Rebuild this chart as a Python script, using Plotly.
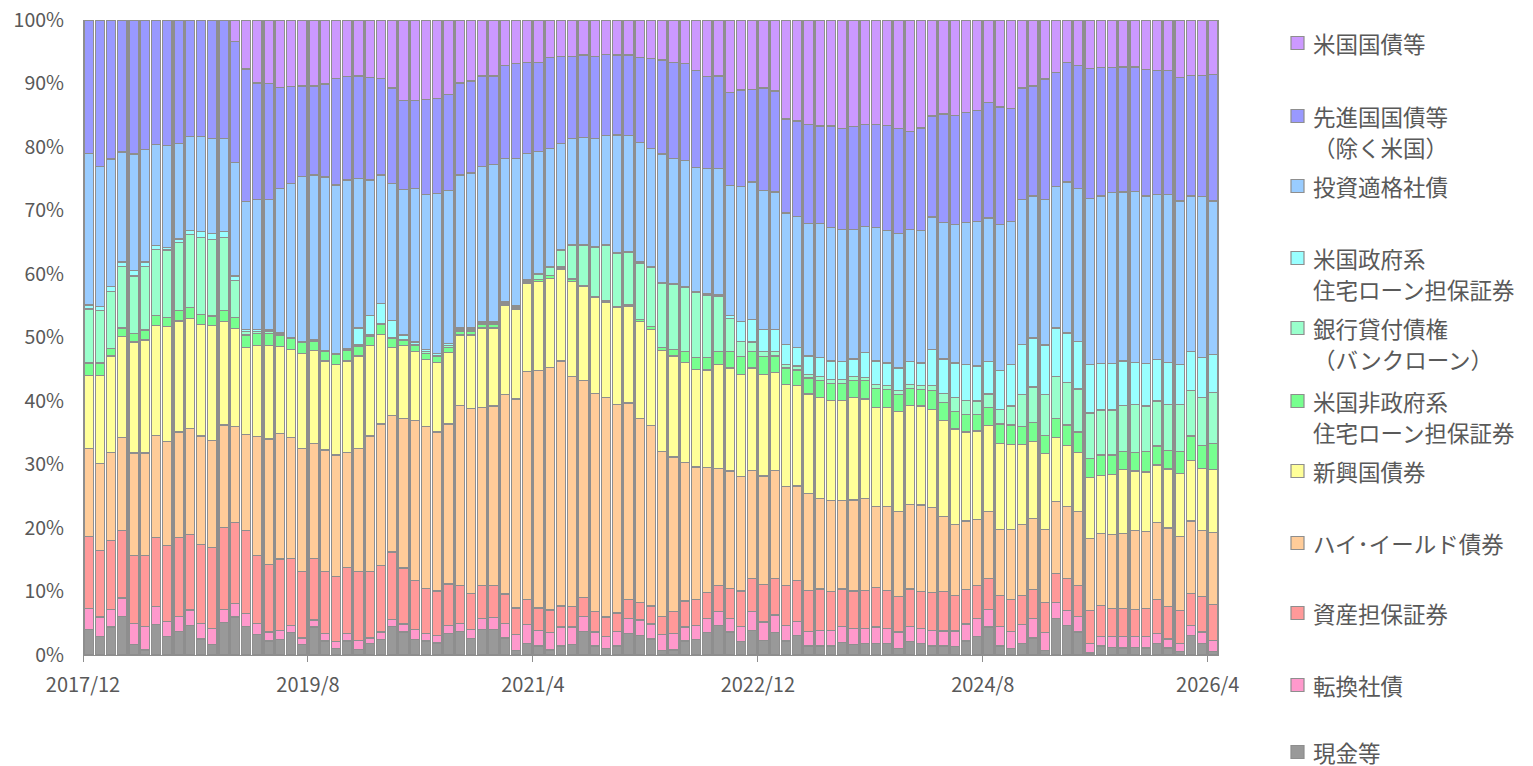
import plotly.graph_objects as go

# ---- categories: monthly from 2017/12 to 2026/4 (101 months) ----
months = []
y, m = 2017, 12
for _ in range(101):
    months.append(f"{y}/{m}")
    m += 1
    if m > 12:
        m = 1
        y += 1

tick_labels = ["2017/12", "2019/8", "2021/4", "2022/12", "2024/8", "2026/4"]

# ---- series values (% of portfolio) ----
cash = [4.0, 2.9, 4.4, 6.1, 1.6, 0.8, 4.8, 2.9, 3.7, 4.6,
        2.5, 1.6, 5.1, 6.0, 4.5, 3.2, 2.2, 2.4, 3.5, 1.6,
        4.4, 2.2, 1.0, 2.2, 0.9, 1.8, 2.4, 4.5, 3.6, 2.4,
        2.2, 1.9, 3.4, 3.7, 2.6, 4.0, 4.0, 2.7, 0.7, 1.8,
        1.4, 0.8, 1.4, 1.6, 3.7, 1.4, 1.0, 1.4, 3.4, 3.1,
        2.5, 0.7, 0.8, 2.2, 2.4, 3.5, 4.6, 3.6, 2.1, 3.9,
        2.3, 3.5, 2.2, 3.1, 1.4, 1.4, 1.4, 2.0, 1.6, 1.8,
        1.8, 1.8, 1.0, 2.1, 1.8, 1.4, 1.4, 1.3, 2.2, 2.9,
        4.4, 1.4, 1.0, 1.8, 2.7, 0.7, 5.7, 4.6, 3.6, 0.3,
        1.4, 1.2, 1.1, 1.2, 1.1, 1.8, 1.1, 0.5, 3.1, 1.8, 0.6]

convertible = [3.3, 3.1, 2.8, 2.9, 3.4, 3.7, 2.8, 2.4, 2.4, 2.5,
               2.5, 2.6, 2.1, 2.1, 2.0, 1.8, 1.4, 1.5, 1.2, 1.1,
               1.1, 1.2, 1.1, 1.2, 1.4, 0.9, 1.2, 1.1, 1.3, 1.6,
               1.2, 1.2, 1.2, 1.3, 1.4, 1.7, 1.9, 2.3, 2.5, 3.0,
               2.5, 2.7, 3.0, 2.8, 2.4, 2.2, 1.9, 2.3, 2.4, 2.4,
               2.4, 2.5, 2.6, 2.2, 2.2, 2.2, 2.2, 2.2, 2.4, 2.9,
               2.9, 2.8, 2.5, 2.2, 2.3, 2.5, 2.5, 2.5, 2.6, 2.4,
               2.6, 2.4, 2.6, 2.4, 2.4, 2.5, 2.4, 2.5, 2.7, 2.8,
               2.8, 3.1, 2.7, 3.0, 3.0, 2.8, 2.6, 2.4, 2.5, 1.5,
               1.5, 1.7, 1.8, 1.7, 1.8, 1.6, 1.4, 1.3, 1.5, 1.8, 1.7]

abs_ = [11.4, 10.5, 10.8, 10.6, 10.7, 11.2, 10.9, 11.9, 12.4, 11.9,
        12.4, 12.7, 12.9, 12.8, 13.1, 10.7, 10.6, 11.2, 10.5, 10.4,
        9.7, 9.7, 10.3, 10.4, 10.8, 10.4, 10.5, 10.6, 8.8, 7.7,
        7.1, 7.0, 6.6, 5.9, 5.7, 5.2, 5.0, 4.6, 4.2, 3.9,
        3.5, 3.6, 3.3, 3.2, 3.0, 3.2, 3.1, 2.9, 2.9, 2.8,
        2.8, 2.9, 3.4, 4.1, 4.1, 4.1, 4.2, 4.7, 5.6, 5.2,
        5.9, 5.7, 6.3, 6.4, 6.5, 6.5, 6.1, 5.9, 5.9, 6.0,
        6.2, 6.0, 5.6, 5.9, 5.8, 5.9, 6.2, 5.6, 5.4, 5.2,
        4.8, 4.9, 5.0, 4.6, 4.6, 4.8, 4.5, 5.0, 4.9, 5.2,
        4.9, 4.4, 4.4, 4.3, 4.4, 5.3, 5.1, 5.2, 5.1, 5.6, 5.6]

high_yield = [13.8, 13.7, 13.9, 14.7, 16.1, 16.1, 16.1, 16.4, 16.6, 16.7,
              17.1, 16.9, 16.1, 15.1, 15.1, 18.7, 19.8, 19.8, 19.0, 19.4,
              18.1, 19.2, 19.1, 18.1, 19.4, 21.4, 22.3, 21.5, 23.5, 25.2,
              25.5, 25.0, 25.2, 28.4, 29.1, 28.1, 28.3, 31.4, 32.9, 36.0,
              37.4, 38.2, 38.6, 36.3, 34.1, 34.4, 34.5, 32.9, 31.0, 28.9,
              28.4, 25.9, 24.4, 21.8, 20.9, 19.7, 18.4, 18.5, 18.0, 17.1,
              17.1, 17.1, 15.5, 14.9, 15.2, 14.3, 14.3, 13.9, 14.3, 14.5,
              12.8, 13.2, 13.4, 13.3, 13.6, 13.4, 11.8, 11.1, 10.8, 10.4,
              10.6, 10.4, 11.1, 11.1, 11.2, 11.5, 11.4, 11.4, 11.6, 11.3,
              11.3, 11.7, 11.8, 12.4, 12.2, 12.2, 12.4, 11.7, 11.4, 10.4, 11.4]

emerging = [11.5, 13.8, 15.2, 15.9, 17.5, 17.8, 17.3, 18.1, 17.5, 17.3,
            17.5, 18.1, 16.3, 15.4, 13.7, 14.3, 14.7, 13.7, 13.9, 15.0,
            14.7, 14.0, 14.3, 14.4, 14.6, 14.2, 14.1, 10.7, 11.5, 10.9,
            10.5, 11.0, 11.2, 11.1, 11.6, 12.5, 12.3, 14.1, 14.2, 13.9,
            14.0, 14.0, 14.5, 14.9, 14.8, 15.1, 15.1, 15.2, 15.2, 15.3,
            15.2, 16.0, 15.9, 15.8, 15.4, 15.4, 16.3, 16.2, 16.1, 16.1,
            16.0, 15.4, 16.1, 15.8, 15.7, 15.9, 15.8, 15.8, 16.1, 15.6,
            15.6, 15.6, 15.8, 15.6, 15.6, 15.5, 15.1, 15.1, 14.0, 14.0,
            13.5, 13.5, 13.4, 12.6, 12.1, 11.9, 10.1, 9.6, 9.3, 9.6,
            9.2, 9.4, 10.1, 9.4, 9.3, 9.0, 9.3, 9.9, 9.5, 9.8, 9.9]

non_agency_mbs = [2.0, 2.0, 1.2, 1.3, 1.3, 1.6, 1.6, 1.5, 1.7, 1.7,
                  1.6, 1.5, 1.8, 1.8, 2.0, 1.9, 1.9, 1.8, 1.7, 1.7,
                  1.4, 1.5, 1.5, 1.6, 1.5, 1.5, 1.5, 1.5, 0.9, 0.9,
                  1.0, 0.9, 0.8, 0.6, 0.6, 0.5, 0.5, 0.3, 0.3, 0.3,
                  0.3, 0.5, 0.3, 0.4, 0.2, 0.2, 0.2, 0.2, 0.2, 0.3,
                  0.4, 0.4, 1.0, 1.7, 1.8, 1.9, 2.1, 2.6, 2.8, 2.6,
                  2.8, 2.6, 2.6, 2.5, 2.5, 2.6, 2.7, 2.7, 2.7, 2.9,
                  3.0, 2.8, 2.6, 2.7, 2.6, 2.9, 2.9, 2.8, 2.8, 2.6,
                  2.9, 3.1, 3.0, 2.9, 3.0, 2.9, 3.0, 3.2, 3.2, 3.0,
                  3.2, 3.1, 2.8, 2.9, 3.2, 3.0, 2.9, 3.4, 3.9, 3.6, 4.1]

bank_loan = [8.5, 8.3, 9.0, 9.7, 9.1, 10.0, 10.4, 10.6, 10.7, 11.5,
             12.2, 12.0, 11.5, 5.8, 0.5, 0.4, 0.3, 0.2, 0.1, 0.1,
             0.1, 0.1, 0.1, 0.2, 0.2, 0.2, 0.2, 0.1, 0.1, 0.2,
             0.3, 0.2, 0.3, 0.2, 0.2, 0.3, 0.3, 0.2, 0.1, 0.1,
             0.9, 1.2, 2.7, 5.3, 6.3, 7.7, 8.7, 8.3, 8.3, 8.9,
             9.3, 10.2, 10.3, 10.1, 10.3, 9.9, 8.7, 5.2, 2.4, 1.5,
             0.8, 0.7, 0.6, 0.6, 0.6, 0.7, 0.6, 0.6, 0.7, 0.5,
             0.6, 0.6, 0.6, 0.6, 0.6, 0.8, 1.4, 2.2, 2.2, 2.1,
             2.1, 2.3, 3.0, 5.0, 5.6, 6.4, 6.6, 6.7, 6.8, 7.2,
             7.1, 7.1, 7.3, 7.5, 7.2, 7.1, 7.3, 7.5, 7.1, 7.6, 8.0]

agency_mbs = [0.6, 0.6, 0.7, 0.7, 0.9, 0.7, 0.6, 0.4, 0.5, 0.6,
              0.9, 1.0, 0.9, 0.7, 0.4, 0.3, 0.3, 0.1, 0.1, 0.1,
              0.1, 0.1, 0.1, 0.1, 2.7, 3.1, 3.1, 2.7, 0.7, 0.4,
              0.3, 0.3, 0.4, 0.3, 0.3, 0.2, 0.2, 0.1, 0.1, 0.1,
              0.1, 0.2, 0.1, 0.2, 0.2, 0.1, 0.2, 0.2, 0.1, 0.2,
              0.1, 0.1, 0.1, 0.1, 0.1, 0.2, 0.2, 0.5, 3.1, 3.5,
              3.5, 3.5, 3.1, 2.9, 2.9, 2.9, 2.9, 2.8, 2.7, 3.9,
              3.7, 3.6, 3.6, 3.6, 3.6, 5.7, 5.4, 5.4, 5.6, 5.5,
              5.1, 6.1, 6.5, 7.9, 7.7, 7.8, 7.6, 7.8, 7.5, 7.6,
              7.3, 7.3, 7.0, 6.7, 6.7, 6.5, 6.6, 6.2, 6.2, 6.2, 6.0]

inv_grade = [23.9, 22.0, 20.1, 17.3, 18.3, 17.7, 15.9, 16.0, 15.1, 14.8,
             14.9, 14.9, 14.6, 17.9, 20.1, 20.4, 20.5, 22.8, 24.2, 26.0,
             26.0, 27.3, 26.5, 26.6, 23.5, 21.3, 20.3, 21.5, 22.9, 24.2,
             24.4, 25.2, 24.1, 24.1, 24.4, 24.4, 24.7, 22.5, 23.2, 19.9,
             19.2, 18.6, 16.7, 16.6, 16.8, 17.0, 17.1, 18.5, 18.3, 18.8,
             18.7, 20.2, 19.7, 19.9, 19.6, 19.7, 19.9, 20.4, 21.3, 21.7,
             21.9, 21.6, 20.7, 20.7, 20.9, 21.2, 21.0, 20.8, 20.4, 19.9,
             21.0, 20.9, 21.2, 20.8, 20.8, 20.9, 21.5, 21.8, 22.4, 22.8,
             22.6, 23.0, 22.6, 22.8, 22.4, 22.9, 22.3, 23.8, 24.1, 26.2,
             26.4, 26.9, 26.6, 26.9, 26.4, 26.0, 26.4, 25.8, 24.5, 25.4, 24.2]

developed_gov = [21.0, 23.1, 21.9, 20.8, 21.1, 20.4, 19.6, 19.8, 19.4, 18.4,
                 18.4, 18.7, 18.7, 19.0, 20.9, 18.4, 18.3, 15.9, 15.3, 14.2,
                 14.0, 14.6, 16.8, 16.3, 16.2, 16.1, 15.2, 15.1, 14.0, 13.8,
                 15.0, 14.9, 15.1, 14.5, 14.5, 14.3, 14.0, 14.6, 15.0, 14.3,
                 14.0, 14.3, 13.7, 13.0, 13.0, 13.0, 12.8, 12.6, 12.7, 13.4,
                 14.1, 14.8, 15.1, 15.3, 15.2, 14.5, 14.6, 14.7, 15.2, 14.6,
                 16.1, 15.9, 14.8, 15.0, 15.5, 15.3, 16.0, 15.9, 16.2, 16.0,
                 16.2, 16.5, 16.5, 15.4, 16.2, 15.9, 17.1, 17.2, 17.3, 17.4,
                 18.2, 18.5, 17.8, 17.6, 17.3, 19.0, 17.9, 18.8, 19.3, 20.5,
                 20.2, 19.7, 19.7, 19.6, 19.9, 19.5, 19.6, 19.5, 19.0, 19.1, 19.9]

us_treasury = [0, 0, 0, 0, 0, 0, 0, 0, 0, 0,
               0, 0, 0, 3.4, 7.7, 9.9, 10.0, 10.6, 10.5, 10.4,
               10.4, 10.1, 9.2, 8.9, 8.8, 9.1, 9.2, 10.7, 12.7, 12.7,
               12.5, 12.4, 11.7, 9.9, 9.6, 8.8, 8.8, 7.2, 6.8, 6.7,
               6.7, 5.9, 5.7, 5.7, 5.5, 5.7, 5.4, 5.5, 5.5, 5.9,
               6.1, 6.3, 6.7, 6.8, 8.0, 8.9, 8.8, 11.4, 11.0, 10.9,
               10.7, 11.2, 15.6, 15.9, 16.5, 16.7, 16.7, 17.1, 16.8, 16.5,
               16.5, 16.6, 17.1, 17.6, 17.0, 15.1, 14.8, 15.0, 14.6, 14.3,
               13.0, 13.7, 13.9, 10.7, 10.4, 9.3, 8.3, 6.7, 7.2, 7.6,
               7.5, 7.5, 7.4, 7.4, 7.8, 8.0, 7.9, 9.0, 8.7, 8.7, 8.6]

# series names (legend lines) and colours, stacking order bottom -> top
names = [
    ["現金等"],
    ["転換社債"],
    ["資産担保証券"],
    ["ハイ･イールド債券"],
    ["新興国債券"],
    ["米国非政府系", "住宅ローン担保証券"],
    ["銀行貸付債権", "（バンクローン）"],
    ["米国政府系", "住宅ローン担保証券"],
    ["投資適格社債"],
    ["先進国国債等", "（除く米国）"],
    ["米国国債等"],
]
values = [cash, convertible, abs_, high_yield, emerging, non_agency_mbs,
          bank_loan, agency_mbs, inv_grade, developed_gov, us_treasury]
colors = ["#999999", "#FF99CC", "#FF9999", "#FFCC99", "#FFFF99", "#77FF8F",
          "#99FFCC", "#99FFFF", "#99CCFF", "#9999FF", "#CC99FF"]

x_idx = list(range(len(months)))
EDGE = "#8E8E8E"
TXT = "#595959"
FONT = "Noto Sans CJK JP, Open Sans, sans-serif"

fig = go.Figure()
for nm, vals, col in zip(names, values, colors):
    fig.add_trace(go.Bar(
        x=x_idx, y=vals, name="".join(nm), customdata=months,
        marker=dict(color=col, line=dict(color=EDGE, width=1.3)),
        hovertemplate="%{customdata}: %{y:.1f}%<extra></extra>",
        showlegend=False,
    ))

# ---- legend drawn at the right (Excel-like spacing) ----
# layout geometry in page pixels (page body offset of 8px is compensated)
PLOT_L, PLOT_R, PLOT_T, PLOT_B = 83, 1219, 20, 655
LEG_ROW_Y = [752, 685, 613, 543, 471, 401, 328, 258, 186, 116, 43]  # first-line centre per series
LINE2_DY = 31
SQ_X0, SQ_X1, SQ_H = 1291, 1304, 13
TEXT_X = 1311


def px_x(px):
    return (px - PLOT_L) / (PLOT_R - PLOT_L)


def px_y(py):
    return (PLOT_B - py) / (PLOT_B - PLOT_T)


shapes, annotations = [], []
for nm, col, yc in zip(names, colors, LEG_ROW_Y):
    shapes.append(dict(type="rect", xref="paper", yref="paper",
                       x0=px_x(SQ_X0), x1=px_x(SQ_X1),
                       y0=px_y(yc + SQ_H / 2), y1=px_y(yc - SQ_H / 2),
                       fillcolor=col, line=dict(color=EDGE, width=1.2)))
    for k, line in enumerate(nm):
        annotations.append(dict(xref="paper", yref="paper",
                                x=px_x(TEXT_X), y=px_y(yc + k * LINE2_DY),
                                xanchor="left", yanchor="middle",
                                text=line, showarrow=False,
                                font=dict(size=22.5, color=TXT, family=FONT)))

fig.update_layout(
    width=1533, height=766,
    barmode="stack", bargap=0.16,
    paper_bgcolor="white", plot_bgcolor="white",
    margin=dict(l=75, r=322, t=12, b=119),
    font=dict(family=FONT, color=TXT, size=20),
    showlegend=False,
    shapes=shapes, annotations=annotations,
)

fig.update_xaxes(
    range=[-0.5, len(months) - 0.5],
    tickmode="array",
    tickvals=[months.index(t) - 0.5 for t in tick_labels],
    ticktext=tick_labels,
    ticks="outside", ticklen=6, tickwidth=1.3, tickcolor=EDGE,
    showline=True, linecolor=EDGE, linewidth=1.3,
    showgrid=False, zeroline=False, automargin=False,
    ticklabelstandoff=6, ticklabeloverflow="allow",
    tickfont=dict(size=20, color=TXT, family=FONT),
)
fig.update_yaxes(
    range=[0, 100],
    tickmode="array", tickvals=list(range(0, 101, 10)),
    ticktext=[f"{v}%" for v in range(0, 101, 10)],
    ticks="", showline=False, showgrid=False, zeroline=False,
    automargin=False, ticklabelstandoff=18, ticklabeloverflow="allow",
    tickfont=dict(size=19.5, color=TXT, family=FONT),
)

fig.write_html("out.html")
